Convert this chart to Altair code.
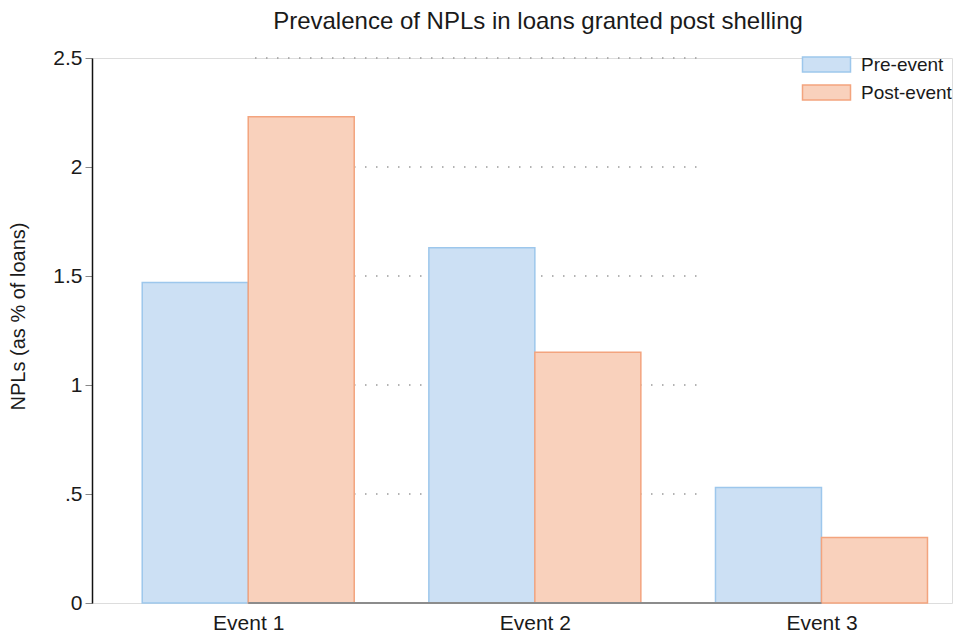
import altair as alt
import pandas as pd

# ---- data ----
events = ["Event 1", "Event 2", "Event 3"]
pre_event = [1.47, 1.63, 0.53]
post_event = [2.23, 1.15, 0.30]
periods = ["Pre-event", "Post-event"]
y_ticks = [0, 0.5, 1, 1.5, 2, 2.5]
y_tick_labels = ["0", ".5", "1", "1.5", "2", "2.5"]
grid_values = [0.5, 1, 1.5, 2, 2.5]

rows = []
for i, ev in enumerate(events):
    rows.append({"event": ev, "idx": i + 1, "period": periods[0], "value": pre_event[i]})
    rows.append({"event": ev, "idx": i + 1, "period": periods[1], "value": post_event[i]})
df = pd.DataFrame(rows)
grid_df = pd.DataFrame({"g": grid_values})
base_df = pd.DataFrame({"a": [1], "b": [len(events)], "y": [0]})

FONT = "Liberation Sans"
TXT = "#1a1a1a"
W, H = 860, 545
x_dom = [0.4724, 3.4379]

x_label_expr = " : ".join(
    [f"datum.value == {i + 1} ? '{ev}'" for i, ev in enumerate(events)] + ["''"]
)
y_label_expr = " : ".join(
    [f"datum.value == {v} ? '{l}'" for v, l in zip(y_ticks, y_tick_labels)] + ["''"]
)

x_enc = alt.X(
    "idx:Q",
    scale=alt.Scale(domain=x_dom, nice=False, zero=False),
    axis=alt.Axis(
        values=[1, 2, 3], labelExpr=x_label_expr, domain=False, ticks=False,
        grid=False, title=None, labelPadding=9, labelFontSize=21,
        labelColor=TXT, labelFont=FONT,
    ),
)
y_scale = alt.Scale(domain=[0, 2.5], nice=False)
y_enc = alt.Y(
    "value:Q",
    scale=y_scale,
    axis=alt.Axis(
        values=y_ticks, labelExpr=y_label_expr, grid=False,
        title="NPLs (as % of loans)", titleFont=FONT, titleFontSize=20,
        titleFontWeight="normal", titleColor=TXT, titlePadding=24, titleY=258,
        labelFont=FONT, labelFontSize=21, labelColor=TXT,
        domainColor="#111111", domainWidth=1.5, tickColor="#888888",
        tickSize=7, labelPadding=3,
    ),
)

fill_scale = alt.Scale(domain=periods, range=["#cce0f4", "#f9d1bc"])
stroke_scale = alt.Scale(domain=periods, range=["#9dc7ec", "#f3a47e"])
legend = alt.Legend(
    title=None, orient="none", legendX=725, legendY=-3,
    symbolType="M-3.2,-1H3.2V1H-3.2Z", symbolSize=225,
    symbolStrokeWidth=1.5, symbolOpacity=1, labelFont=FONT, labelFontSize=19,
    labelColor=TXT, labelOffset=25, rowPadding=7, padding=0,
)

grid = alt.Chart(grid_df).mark_rule(
    color="#9a9a9a", strokeDash=[1.5, 9.5], strokeWidth=1.5
).encode(
    y=alt.Y("g:Q", scale=y_scale), x=alt.value(163), x2=alt.value(606)
)

def bars(period, offset):
    return alt.Chart(df).transform_filter(
        alt.datum.period == period
    ).mark_bar(width=106, xOffset=offset, strokeWidth=1.5, opacity=1).encode(
        x=x_enc,
        y=y_enc,
        fill=alt.Fill("period:N", scale=fill_scale, legend=legend, sort=periods),
        stroke=alt.Stroke("period:N", scale=stroke_scale, legend=legend, sort=periods),
    )

baseline = alt.Chart(base_df).mark_rule(color="#8c8c8c", strokeWidth=2).encode(
    x=alt.X("a:Q", scale=alt.Scale(domain=x_dom, nice=False, zero=False)),
    x2="b:Q",
    y=alt.Y("y:Q", scale=y_scale),
)

chart = alt.layer(grid, bars(periods[0], -53), bars(periods[1], 53), baseline).properties(
    width=W, height=H,
    title=alt.TitleParams(
        "Prevalence of NPLs in loans granted post shelling",
        font=FONT, fontSize=24, fontWeight="normal", color=TXT,
        anchor="middle", offset=22, dx=16, dy=9,
    ),
    autosize=alt.AutoSizeParams(type="none"),
    padding={"left": 84, "top": 50, "right": 9, "bottom": 30},
).configure_view(stroke=None).configure(background="white")

chart.save("out.html", embed_options={"renderer": "svg", "actions": False})
